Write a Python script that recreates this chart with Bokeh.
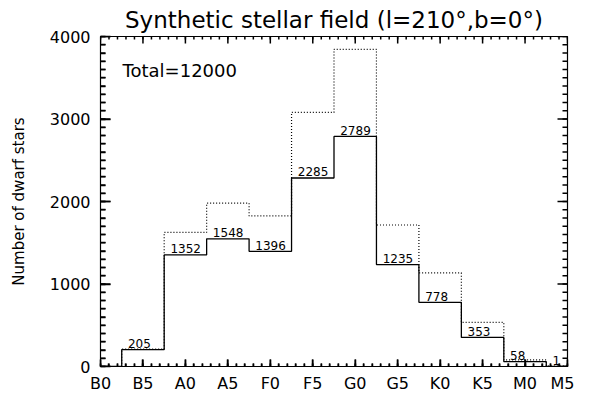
import numpy as np
from bokeh.plotting import figure
from bokeh.models import FixedTicker, LinearAxis, Range1d, Label, ColumnDataSource
from bokeh.embed import file_html
from bokeh.resources import INLINE

# ---- data ----
tick_labels = ["B0", "B5", "A0", "A5", "F0", "F5", "G0", "G5", "K0", "K5", "M0", "M5"]
tick_positions = [0, 5, 10, 15, 20, 25, 30, 35, 40, 45, 50, 55]
minor_x_ticks = list(range(0, 56))
y_ticks = [0, 1000, 2000, 3000, 4000]
minor_y_ticks = list(range(0, 4001, 100))
bin_centers = [5, 10, 15, 20, 25, 30, 35, 40, 45, 50, 55]
dwarf_counts = [205, 1352, 1548, 1396, 2285, 2789, 1235, 778, 353, 58, 1]
dotted_counts = [210, 1625, 1980, 1825, 3080, 3845, 1715, 1135, 535, 80, 5]
count_labels = [str(v) for v in dwarf_counts]
title_text = "Synthetic stellar field (l=210\u00b0,b=0\u00b0)"
y_title = "Number of dwarf stars"
total_text = "Total=12000"

FONT = "DejaVu Sans"
FW, FH = 467, 330  # frame size in px
TICK_W = 1.5

bin_width = bin_centers[1] - bin_centers[0]
edges = np.array(bin_centers, dtype=float) - bin_width / 2.0
edges = np.append(edges, bin_centers[-1] + bin_width / 2.0)

x0 = tick_positions[0]
step_x = np.concatenate([[x0], edges])
solid_y = np.concatenate([[0], dwarf_counts, [dwarf_counts[-1]]])
dotted_y = np.concatenate([[0], dotted_counts, [dotted_counts[-1]]])

xmin, xmax = tick_positions[0], tick_positions[-1]
ymin, ymax = y_ticks[0], y_ticks[-1]

p = figure(
    output_backend="svg", toolbar_location=None,
    frame_width=FW, frame_height=FH,
    min_border_left=100, min_border_right=7, min_border_top=28, min_border_bottom=20,
    x_range=Range1d(xmin, xmax),
    y_range=Range1d(ymin, ymax),
    x_axis_location=None, y_axis_location=None,
)
p.outline_line_color = "black"
p.outline_line_width = 1.2
p.xgrid.visible = False
p.ygrid.visible = False

p.title.text = title_text
p.title.text_font = FONT
p.title.text_font_size = "23px"
p.title.text_font_style = "normal"
p.title.text_color = "black"
p.title.align = "center"
p.title.standoff = 8

xt = FixedTicker(ticks=tick_positions, minor_ticks=minor_x_ticks)
yt = FixedTicker(ticks=y_ticks, minor_ticks=minor_y_ticks)

xb = LinearAxis(ticker=xt)
xb.major_label_overrides = {pos: lab for pos, lab in zip(tick_positions, tick_labels)}
xb.major_label_text_font = FONT
xb.major_label_text_font_size = "16px"
xb.major_label_text_color = "black"
xb.major_label_standoff = 7
xb.axis_line_color = "black"
xb.major_tick_in = 7
xb.major_tick_out = 0
xb.minor_tick_in = 3
xb.minor_tick_out = 0
xb.major_tick_line_width = TICK_W
xb.minor_tick_line_width = TICK_W
p.add_layout(xb, "below")

yl = LinearAxis(ticker=yt)
yl.major_label_text_font = FONT
yl.major_label_text_font_size = "16px"
yl.major_label_text_color = "black"
yl.major_label_standoff = 10
yl.axis_line_color = "black"
yl.major_tick_in = 10
yl.major_tick_out = 0
yl.minor_tick_in = 5
yl.minor_tick_out = 0
yl.major_tick_line_width = TICK_W
yl.minor_tick_line_width = TICK_W
yl.axis_label = y_title
yl.axis_label_text_font = FONT
yl.axis_label_text_font_size = "15px"
yl.axis_label_text_font_style = "normal"
yl.axis_label_text_color = "black"
yl.axis_label_standoff = 19
p.add_layout(yl, "left")

# inward tick marks on all four sides (IDL style) as thin filled bars;
# tick lengths/widths converted from px to data units
dx_per_px = (xmax - xmin) / FW
dy_per_px = (ymax - ymin) / FH


def xticks(xs, length_px):
    xs = np.asarray(xs, dtype=float)
    L = length_px * dy_per_px
    hw = 0.5 * TICK_W * dx_per_px
    for base, top in ((ymin, ymin + L), (ymax - L, ymax)):
        p.quad(left=xs - hw, right=xs + hw, bottom=np.full_like(xs, base), top=np.full_like(xs, top),
               fill_color="black", line_color=None)


def yticks(ys, length_px):
    ys = np.asarray(ys, dtype=float)
    L = length_px * dx_per_px
    hh = 0.5 * TICK_W * dy_per_px
    for left, right in ((xmin, xmin + L), (xmax - L, xmax)):
        p.quad(left=np.full_like(ys, left), right=np.full_like(ys, right), bottom=ys - hh, top=ys + hh,
               fill_color="black", line_color=None)


xticks(minor_x_ticks, 3)
xticks(tick_positions, 7)
yticks(minor_y_ticks, 5)
yticks(y_ticks, 10)

p.step(x=step_x, y=dotted_y, mode="after", line_color="black", line_width=1.2, line_dash="1 2")
p.step(x=step_x, y=solid_y, mode="after", line_color="black", line_width=1.3)

src = ColumnDataSource(dict(x=bin_centers, y=dwarf_counts, t=count_labels))
p.text(x="x", y="y", text="t", source=src, text_font_size="12px", text_color="black",
       text_align="left", text_baseline="alphabetic", x_offset=-15, y_offset=-6,
       text_font={"value": FONT})

total = Label(x=2.6, y=3590, text=total_text, text_font=FONT, text_font_size="18px",
              text_color="black", text_baseline="middle", text_align="left")
p.add_layout(total)

open("out.html", "w").write(file_html(p, INLINE))
